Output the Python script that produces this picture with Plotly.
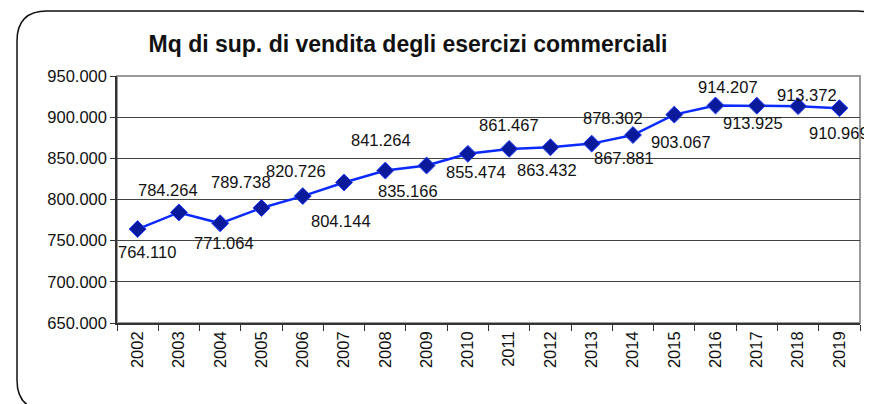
import plotly.graph_objects as go

years = [str(y) for y in range(2002, 2020)]
values = [764110, 784264, 771064, 789738, 804144, 820726, 835166, 841264, 855474,
          861467, 863432, 867881, 878302, 903067, 914207, 913925, 913372, 910969]
# label offsets in pixels (dx, dy) relative to each point
label_dx = [9, -11, 4, -20, 38, -48, 23, -46, 8, 0, -3, 32, -20, 7, 12, -4, 9, 0]
label_dy = [23, -22, 20, -26, 25, -11, 20, -26, 18, -24, 23, 14, -17, 27, -18, 17, -11, 25]

# page has an 8px body margin; figure occupies page (8..872, 8..404)
OFF = 8
W, H = 872 - OFF, 404 - OFF
L, R, T, B = 117 - OFF, 12, 76 - OFF, 81
pw, ph = W - L - R, H - T - B

def px(x):  # page pixel -> paper
    return (x - OFF - L) / pw

def py(y):
    return (H - B - (y - OFF)) / ph

def fmt(v):
    return f"{v:,}".replace(",", ".")

FONT = "Liberation Sans, Arial, sans-serif"
FS = 16.5

fig = go.Figure()
fig.add_trace(go.Scatter(
    x=years, y=values, mode="lines+markers",
    line=dict(color="#0a2aff", width=2.5),
    marker=dict(symbol="diamond", size=13, color="#0a1a9a",
                line=dict(color="#1a3aff", width=1)),
    hoverinfo="skip", showlegend=False,
))

for i, (v, dx, dy) in enumerate(zip(values, label_dx, label_dy)):
    fig.add_annotation(x=i, y=v, text=fmt(v), showarrow=False,
                       xshift=dx, yshift=-dy,
                       font=dict(family=FONT, size=FS, color="#111"))

# rounded outer border
x0, y0, x1, y1, r = px(17), py(11), px(887), py(410), 30
rx, ry = r / pw, r / ph
path = (f"M {x0+rx},{y0} L {x1-rx},{y0} Q {x1},{y0} {x1},{y0-ry} "
        f"L {x1},{y1+ry} Q {x1},{y1} {x1-rx},{y1} L {x0+rx},{y1} "
        f"Q {x0},{y1} {x0},{y1+ry} L {x0},{y0-ry} Q {x0},{y0} {x0+rx},{y0} Z")
fig.add_shape(type="path", path=path, xref="paper", yref="paper",
              line=dict(color="#111", width=1.5), layer="below")
# plot area border (gray top/right)
fig.add_shape(type="rect", x0=0, y0=0, x1=1, y1=1, xref="paper", yref="paper",
              line=dict(color="#9a9a9a", width=2), layer="below")

fig.update_layout(
    width=W, height=H,
    margin=dict(l=L, r=R, t=T, b=B, autoexpand=False),
    paper_bgcolor="white", plot_bgcolor="white",
    separators=",.",
    title=dict(text="<b>Mq di sup. di vendita degli esercizi commerciali</b>",
               xref="container", yref="container",
               x=(408 - OFF) / W, y=1 - (44 - OFF) / H,
               xanchor="center", yanchor="middle",
               font=dict(family=FONT, size=23, color="#111")),
    font=dict(family=FONT, size=FS, color="#111"),
)
fig.update_xaxes(
    type="category", range=[-0.5, len(years) - 0.5], autorange=False,
    tickson="boundaries", ticks="outside", ticklen=6,
    tickcolor="#333", tickangle=-90, showline=True, linecolor="#333",
    linewidth=1.5, showgrid=False,
    tickfont=dict(family=FONT, size=FS, color="#111"),
)
fig.update_yaxes(
    range=[650000, 950000], autorange=False, dtick=50000, tickformat=",d",
    ticks="outside", ticklen=5, tickcolor="#333",
    showline=True, linecolor="#333", linewidth=1.5,
    showgrid=True, gridcolor="#444", gridwidth=1, zeroline=False,
    tickfont=dict(family=FONT, size=FS, color="#111"),
)

fig.write_html("out.html")
